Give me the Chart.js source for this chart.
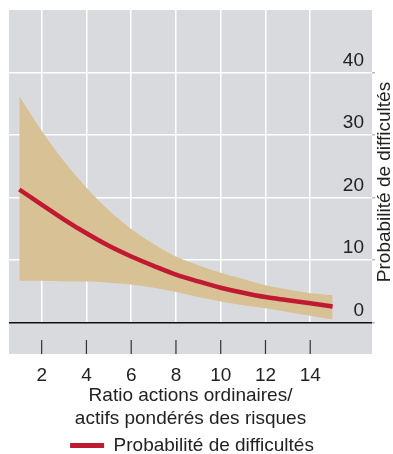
<!DOCTYPE html>
<html>
<head>
<meta charset="utf-8">
<script src="https://cdn.jsdelivr.net/npm/chart.js@4.4.0/dist/chart.umd.min.js"></script>
<style>
  html, body { margin: 0; padding: 0; background: #fff; }
</style>
</head>
<body>
<canvas id="chart" width="393" height="454"></canvas>
<script>
// Values
const ratios = [1, 2, 3, 4, 5, 6, 7, 8, 9, 10, 11, 12, 13, 14, 15];
const probability = [21.3, 18.9, 16.5, 14.3, 12.3, 10.6, 9.1, 7.7, 6.6, 5.6, 4.8, 4.1, 3.6, 3.1, 2.6];
const upperBound = [36.2, 30.7, 25.8, 21.6, 18.0, 15.0, 12.6, 10.6, 9.2, 8.0, 7.0, 6.0, 5.3, 4.7, 4.4];
const lowerBound = [6.7, 6.7, 6.6, 6.6, 6.4, 6.1, 5.6, 4.9, 4.1, 3.4, 2.8, 2.3, 1.7, 1.1, 0.5];
const xTicks = [2, 4, 6, 8, 10, 12, 14];
const yTicks = [0, 10, 20, 30, 40];

const PANEL_GREY = '#d9dadd';
const BAND_TAN = '#d8c194';
const LINE_RED = '#c01a33';
const TEXT = '#222';
const FONT = "'Liberation Sans', Arial, sans-serif";
const FONT_SIZE = 19;

const toPoints = arr => arr.map((v, i) => ({ x: ratios[i], y: v }));

// grey panel, zero line, inward ticks and the right-hand axis title
const panelPlugin = {
  id: 'panel',
  beforeDraw(chart) {
    const { ctx, chartArea: a } = chart;
    ctx.save();
    ctx.fillStyle = PANEL_GREY;
    ctx.fillRect(a.left, a.top, a.right - a.left, a.bottom - a.top);
    ctx.restore();
  },
  beforeDatasetsDraw(chart) {
    const { ctx, chartArea: a, scales: { x, y } } = chart;
    const y0 = y.getPixelForValue(0);
    ctx.save();
    // no white grid under the zero line
    ctx.fillStyle = PANEL_GREY;
    ctx.fillRect(a.left, y0, a.right - a.left, a.bottom - y0);
    ctx.strokeStyle = '#111';
    ctx.lineWidth = 1.5;
    ctx.beginPath();
    ctx.moveTo(a.left, y0);
    ctx.lineTo(a.right, y0);
    ctx.stroke();
    ctx.strokeStyle = '#333';
    ctx.lineWidth = 1.2;
    ctx.beginPath();
    x.ticks.forEach(t => {
      const px = x.getPixelForValue(t.value);
      ctx.moveTo(px, a.bottom - 14);
      ctx.lineTo(px, a.bottom);
    });
    ctx.stroke();
    ctx.restore();
  },
  afterDraw(chart) {
    const { ctx, chartArea: a } = chart;
    ctx.save();
    ctx.translate(385, (a.top + a.bottom) / 2);
    ctx.rotate(-Math.PI / 2);
    ctx.fillStyle = TEXT;
    ctx.font = FONT_SIZE + 'px ' + FONT;
    ctx.textAlign = 'center';
    ctx.textBaseline = 'middle';
    ctx.fillText('Probabilité de difficultés', 0, 0);
    ctx.restore();
  }
};

new Chart(document.getElementById('chart'), {
  type: 'line',
  data: {
    datasets: [
      {
        label: 'Probabilité de difficultés',
        data: toPoints(probability),
        borderColor: LINE_RED,
        backgroundColor: LINE_RED,
        borderWidth: 4.5,
        pointRadius: 0,
        cubicInterpolationMode: 'monotone',
        fill: false
      },
      {
        label: 'upper',
        data: toPoints(upperBound),
        borderWidth: 0,
        backgroundColor: BAND_TAN,
        pointRadius: 0,
        cubicInterpolationMode: 'monotone',
        fill: '+1'
      },
      {
        label: 'lower',
        data: toPoints(lowerBound),
        borderWidth: 0,
        pointRadius: 0,
        cubicInterpolationMode: 'monotone',
        fill: false
      }
    ]
  },
  options: {
    responsive: false,
    animation: false,
    layout: { padding: { left: 9, top: 10, right: 18, bottom: -11 } },
    plugins: {
      tooltip: { enabled: false },
      legend: {
        position: 'bottom',
        labels: {
          // only the central estimate gets a legend entry, drawn as a flat bar
          generateLabels: chart => Chart.defaults.plugins.legend.labels.generateLabels(chart)
            .filter(item => item.datasetIndex === 0)
            .map(item => ({ ...item, lineWidth: 0 })),
          boxWidth: 34,
          boxHeight: 5,
          color: TEXT,
          font: { family: FONT, size: FONT_SIZE },
          padding: 0
        }
      }
    },
    scales: {
      x: {
        type: 'linear',
        min: 0.54,
        max: 16.76,
        afterBuildTicks: scale => { scale.ticks = xTicks.map(v => ({ value: v })); },
        afterFit: scale => { scale.height = 82; },
        grid: { color: '#fff', lineWidth: 1.5, drawTicks: false },
        border: { display: false },
        ticks: { color: TEXT, font: { family: FONT, size: FONT_SIZE }, padding: 10, maxRotation: 0 },
        title: {
          display: true,
          text: ['Ratio actions ordinaires/', 'actifs pondérés des risques'],
          color: TEXT,
          font: { family: FONT, size: FONT_SIZE, lineHeight: 1.2 },
          padding: { top: 0, bottom: 6 }
        }
      },
      y: {
        position: 'right',
        min: -5,
        max: 50,
        afterBuildTicks: scale => { scale.ticks = yTicks.map(v => ({ value: v })); },
        afterFit: scale => { scale.width = 3; },
        grid: { color: '#fff', lineWidth: 1.5, drawTicks: true, tickLength: 3, tickColor: '#bbb' },
        border: { display: false },
        ticks: {
          mirror: true,
          labelOffset: -12,
          padding: -8,
          color: TEXT,
          font: { family: FONT, size: FONT_SIZE }
        }
      }
    }
  },
  plugins: [panelPlugin]
});
</script>
</body>
</html>
